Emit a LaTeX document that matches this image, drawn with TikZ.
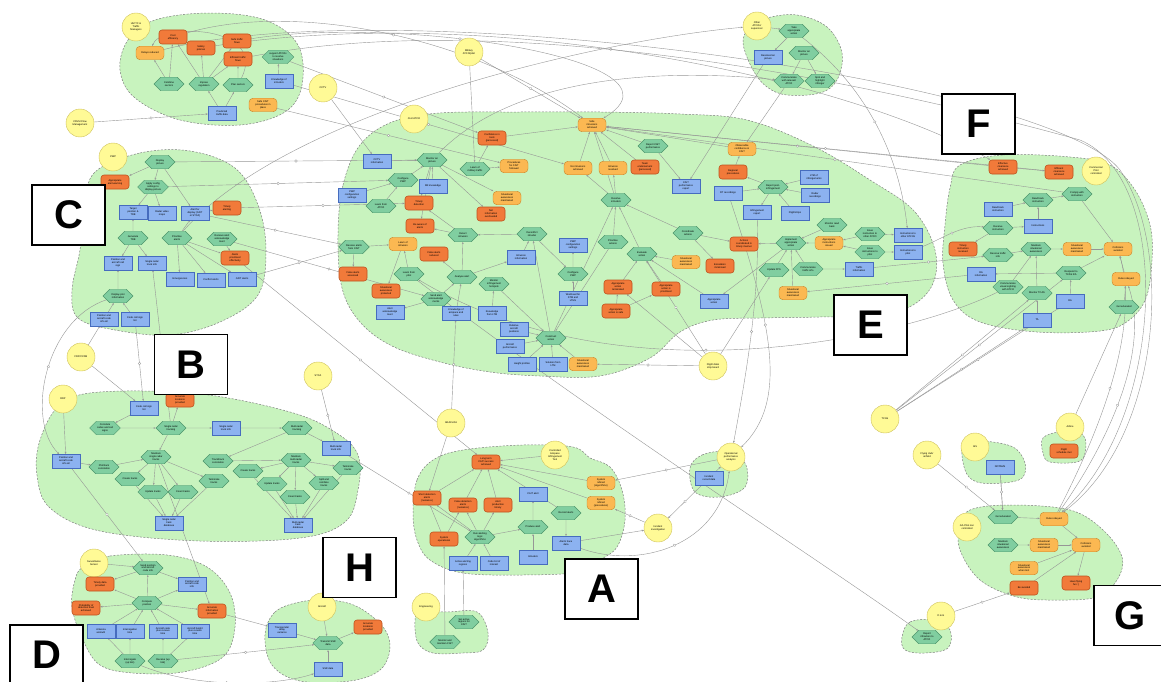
\documentclass[tikz,border=0pt]{standalone}
\usepackage{fontspec}
\setmainfont{Liberation Sans}
\usetikzlibrary{shapes.symbols,arrows.meta,decorations.markings}

\definecolor{blobgreen}{RGB}{200,243,190}
\definecolor{taskgreen}{RGB}{128,206,160}
\definecolor{taskedge}{RGB}{78,150,108}
\definecolor{resblue}{RGB}{140,178,240}
\definecolor{resedge}{RGB}{70,108,190}
\definecolor{goalorange}{RGB}{251,184,82}
\definecolor{goaledge}{RGB}{200,132,40}
\definecolor{badorange}{RGB}{241,122,58}
\definecolor{badedge}{RGB}{190,82,30}
\definecolor{actoryellow}{RGB}{255,250,150}
\definecolor{actoredge}{RGB}{205,192,92}
\definecolor{linegray}{RGB}{150,150,150}

\newcommand{\tfont}{\fontsize{2.5}{2.9}\selectfont}

\pgfdeclarelayer{blobs}
\pgfdeclarelayer{links}
\pgfsetlayers{blobs,links,main}

\begin{document}
\begin{tikzpicture}[x=1pt,y=-1pt,
  actor/.style={circle,draw=actoredge,fill=actoryellow,minimum size=28pt,inner sep=0pt,align=center,font=\tfont},
  task/.style={signal,signal to=west and east,draw=taskedge,fill=taskgreen,minimum width=30pt,minimum height=13.5pt,inner sep=0.6pt,align=center,font=\tfont},
  res/.style={rectangle,draw=resedge,fill=resblue,minimum width=28pt,minimum height=13.5pt,inner sep=0.8pt,align=center,font=\tfont},
  goal/.style={rectangle,rounded corners=4pt,draw=goaledge,fill=goalorange,minimum width=28pt,minimum height=13.5pt,inner sep=0.8pt,align=center,font=\tfont},
  bad/.style={rectangle,rounded corners=3pt,draw=badedge,line width=0.6pt,fill=badorange,minimum width=28pt,minimum height=14pt,inner sep=0.8pt,align=center,font=\tfont},
  blob/.style={draw=gray,dash pattern=on 2pt off 1.5pt,fill=blobgreen,line width=0.5pt},
  letterbox/.style={draw=black,line width=1.8pt,fill=white,minimum width=73pt,minimum height=60pt,inner sep=0pt,font=\fontsize{40}{40}\selectfont\bfseries},
  link/.style={draw=linegray,line width=0.4pt,-{Stealth[length=2.2pt,width=1.8pt]}},
  xlink/.style={link,postaction={decorate},decoration={markings,mark=at position 0.5 with {\draw[linegray,fill=white,line width=0.3pt] (0,0) circle (1.3pt);}}}]

\useasboundingbox (0,0) rectangle (1161,682);

% areas of the system
\begin{pgfonlayer}{blobs}
\draw[blob] plot[smooth cycle,tension=0.6] coordinates {(120,70) (128,40) (155,20) (210,13) (265,20) (298,45) (302,85) (285,112) (240,125) (180,120) (135,98)};
\draw[blob] plot[smooth cycle,tension=0.6] coordinates {(95,172) (140,153) (190,151) (235,168) (258,205) (266,250) (258,295) (220,322) (170,335) (115,330) (78,318) (72,290) (80,250) (85,205)};
\draw[blob] plot[smooth cycle,tension=0.6] coordinates {(40,440) (60,405) (100,392) (200,394) (290,412) (335,432) (358,455) (358,490) (345,522) (300,538) (200,541) (100,531) (50,508) (37,475)};
\draw[blob] plot[smooth cycle,tension=0.6] coordinates {(338,235) (343,185) (360,145) (392,122) (440,113) (520,112) (600,112) (680,114) (747,120) (813,146) (870,180) (915,212) (936,255) (928,292) (890,314) (820,317) (760,318) (713,320) (680,332) (650,358) (600,376) (540,376) (490,372) (440,362) (392,346) (360,322) (342,288)};
\draw[blob] plot[smooth cycle,tension=0.6] coordinates {(960,165) (1003,155) (1070,157) (1110,165) (1135,190) (1150,225) (1152,260) (1146,298) (1128,321) (1100,331) (1037,332) (980,322) (953,300) (943,263) (945,225) (950,188)};
\draw[blob] plot[smooth cycle,tension=0.6] coordinates {(767,18) (797,15) (827,27) (842,53) (837,80) (820,93) (787,95) (767,87) (753,70) (743,43) (750,27)};
\draw[blob] plot[smooth cycle,tension=0.6] coordinates {(413,513) (417,480) (433,460) (463,450) (523,445) (573,447) (590,458) (610,467) (622,490) (625,520) (617,547) (600,560) (580,572) (523,575) (463,573) (430,560) (417,540)};
\draw[blob] plot[smooth cycle,tension=0.6] coordinates {(690,468) (702,455) (725,452) (745,463) (745,487) (720,497) (695,492)};
\draw[blob] plot[smooth cycle,tension=0.6] coordinates {(415,622) (420,612) (447,612) (477,612) (488,633) (483,650) (463,653) (433,653) (418,643)};
\draw[blob] plot[smooth cycle,tension=0.6] coordinates {(83,567) (110,556) (167,555) (207,567) (230,593) (235,627) (223,657) (183,672) (133,673) (100,665) (83,640) (72,607) (75,580)};
\draw[blob] plot[smooth cycle,tension=0.6] coordinates {(265,635) (275,612) (300,602) (330,600) (358,607) (383,627) (390,648) (380,670) (350,681) (300,681) (272,665)};
\draw[blob] plot[smooth cycle,tension=0.6] coordinates {(970,510) (1010,505) (1070,510) (1103,530) (1122,557) (1117,580) (1097,597) (1057,600) (1017,597) (980,580) (960,550) (960,527)};
\draw[blob] plot[smooth cycle,tension=0.6] coordinates {(963,443) (983,441) (1013,447) (1025,463) (1022,478) (1003,483) (977,482) (965,470)};
\draw[blob] plot[smooth cycle,tension=0.6] coordinates {(1043,438) (1060,432) (1083,435) (1085,453) (1077,462) (1050,462) (1043,453)};
\draw[blob] plot[smooth cycle,tension=0.6] coordinates {(902,637) (910,622) (935,620) (950,630) (948,648) (925,653) (905,650)};
\end{pgfonlayer}

% actors
\node[actor] (aUM) at (136,27) {UM TC \&\\Traffic\\Managers};
\node[actor] (aCFMU) at (80,123) {CFMU Flow\\Management};
\node[actor] (aCWP) at (113,157) {CWP};
\node[actor] (aCCTV) at (323,88) {CCTV};
\node[actor] (aMil) at (469,52) {Military\\ATCO/pilot};
\node[actor] (aCivil) at (414,119) {Civil ATCO};
\node[actor] (aOther) at (757,26) {Other\\ATCOs/\\supervisor};
\node[actor] (aCommercial) at (1096,171) {Commercial\\Pilot\\controlled};
\node[actor] (aFDP) at (81,357) {FDP/CCDB};
\node[actor] (aRDP) at (63,399) {RDP};
\node[actor] (aSTCA) at (318,376) {STCA};
\node[actor] (aARA) at (451,423) {ARACLOA};
\node[actor] (aCAIT) at (555,455) {Controlled\\Airspace\\Infringement\\Tool};
\node[actor] (aFlight) at (713,366) {Flight data/\\strip board};
\node[actor] (aOps) at (731,457) {Operational\\performance\\analysis};
\node[actor] (aInv) at (658,528) {Incident\\investigation};
\node[actor] (aTCAS) at (885,419) {TCAS};
\node[actor] (aAirline) at (1070,427) {Airline};
\node[actor] (aAIS) at (975,447) {AIS};
\node[actor] (aClub) at (927,455) {Flying club/\\airfield};
\node[actor] (aGA) at (967,527) {GA Pilot non\\controlled};
\node[actor] (aDG) at (941,616) {D \& G};
\node[actor] (aSensor) at (94,563) {Surveillance\\Sensor};
\node[actor] (aAircraft) at (322,607) {Aircraft};
\node[actor] (aEng) at (426,607) {Engineering};

% traffic management
\node[bad] (tmCost) at (173,37) {Cost\\efficiency};
\node[bad] (tmSafeFlow) at (237,41) {Safe traffic\\flows};
\node[bad] (tmSafety) at (201,48) {Safety\\policies};
\node[bad] (tmEffFlow) at (238,59) {Efficient traffic\\flows};
\node[goal] (tmDelays) at (150,53) {Delays reduced};
\node[task] (tmSupport) at (278,57) {support ATCOs\\to resolve\\situations};
\node[task] (tmCombine) at (169,84) {Combine\\sectors};
\node[task] (tmImpose) at (204,84) {Impose\\regulation};
\node[task] (tmPlan) at (238,85) {Plan sectors};
\node[res] (tmKnow) at (279,81) {Knowledge of\\intruders};
\node[res] (tmPredict) at (222,113) {Predicted\\traffic data};
\node[goal] (tmProc) at (263,105) {Safe CAIT\\procedures in\\place};

% C
\node[task] (cDisplay) at (160,162) {Display\\picture};
\node[bad] (cApprop) at (115,182) {Appropriate\\alert warning};
\node[task] (cApply) at (153,187) {Apply config\\settings to\\display picture};
\node[res] (cTarget) at (133,212) {Target\\position \&\\TDB};
\node[res] (cRadar) at (162,213) {Radar video\\maps};
\node[res] (cAlertDisp) at (195,213) {Alert for\\display (CAIT\\or STCA)};
\node[bad] (cTimely) at (227,208) {Timely\\alerting};
\node[task] (cGenerate) at (133,238) {Generate\\TDB};
\node[task] (cPrior) at (177,238) {Prioritise\\alerts};
\node[task] (cRecvAck) at (222,239) {Receive alert\\acknowledge\\ment};
\node[bad] (cAlertsPrior) at (235,258) {Alerts\\prioritised\\effectively};
\node[res] (cPosCall) at (118,263) {Position and\\aircraft call\\sign};
\node[res] (cSingle) at (152,263) {Single radar\\track info};
\node[res] (cEmerg) at (180,279) {Emergencies};
\node[res] (cConflict) at (211,280) {Conflict alerts};
\node[res] (cCait) at (242,279) {CAIT alerts};
\node[task] (cPlot) at (118,296) {Display plot\\information};
\node[res] (cPosCode) at (104,319) {Position and\\aircraft code\\info all};
\node[res] (cCodeList) at (135,319) {Code call sign\\list};

% B
\node[bad] (bAccurate) at (180,400) {Accurate\\locations\\provided};
\node[res] (bCodeList) at (144,408) {Code call sign\\list};
\node[task] (bCorrelate) at (105,428) {Correlate\\codes and call\\signs};
\node[task] (bSingleTrk) at (171,428) {Single radar\\tracking};
\node[res] (bSingleInfo) at (226,428) {Single radar\\track info};
\node[task] (bMultiTrk) at (297,428) {Multi-radar\\tracking};
\node[res] (bMultiInfo) at (336,448) {Multi-radar\\track info};
\node[res] (bPosAll) at (66,461) {Position and\\aircraft code\\info all};
\node[task] (bPlotTrk) at (104,467) {Plot/track\\correlation};
\node[task] (bMaintS) at (156,457) {Maintain\\single radar\\tracks};
\node[task] (bCreateS) at (130,479) {Create tracks};
\node[task] (bUpdateS) at (153,492) {Update tracks};
\node[task] (bCoastS) at (183,492) {Coast tracks};
\node[task] (bTermS) at (214,481) {Terminate\\tracks};
\node[task] (bTrkTrk) at (218,461) {Track/track\\correlation};
\node[res] (bSingleDB) at (169,523) {Single radar\\track\\database};
\node[task] (bCreateM) at (248,471) {Create tracks};
\node[task] (bUpdateM) at (272,484) {Update tracks};
\node[task] (bMaintM) at (296,460) {Maintain\\multi-radar\\tracks};
\node[task] (bCoastM) at (295,497) {Coast tracks};
\node[task] (bSplit) at (324,483) {Split and\\combine\\tracks};
\node[task] (bTermM) at (348,468) {Terminate\\tracks};
\node[res] (bMultiDB) at (298,525) {Multi-radar\\track\\database};

% D
\node[task] (dSend) at (148,568) {Send position\\and aircraft\\code info};
\node[bad] (dTimely) at (100,584) {Timely data\\provided};
\node[res] (dPosInfo) at (192,584) {Position and\\aircraft code\\info};
\node[task] (dCompute) at (147,603) {Compute\\position};
\node[bad] (dProb) at (86,608) {Probability of\\detection level\\achieved};
\node[bad] (dAccurate) at (212,611) {Accurate\\information\\provided};
\node[res] (dAntenna) at (101,631) {Antenna\\azimuth};
\node[res] (dInterTime) at (130,631) {Interrogation\\time};
\node[res] (dCode) at (163,631) {Aircraft code\\plus receive\\time};
\node[res] (dHeight) at (195,631) {Aircraft height\\plus receive\\time};
\node[task] (dInterrog) at (130,661) {Interrogate\\(up link)};
\node[task] (dReceive) at (163,661) {Receive (up\\link)};

% H
\node[res] (hTransp) at (282,630) {Transponder\\delay\\variance};
\node[task] (hTransmit) at (328,643) {Transmit SSR\\data};
\node[bad] (hAccurate) at (368,627) {Accurate\\locations\\provided};
\node[res] (hSSR) at (328,669) {SSR data};

% A
\node[bad] (aaLong) at (486,462) {Long term\\CAIT success\\achieved};
\node[bad] (aaShort) at (427,498) {Short detection\\alerts\\(nuisance)};
\node[bad] (aaFalse) at (463,505) {False detection\\alerts\\(nuisance)};
\node[bad] (aaTimely) at (498,505) {Alert\\production\\timely};
\node[res] (aaCaitAlert) at (533,494) {CAIT alert};
\node[task] (aaRecord) at (566,513) {Record alerts};
\node[task] (aaProduce) at (533,527) {Produce alert};
\node[bad] (aaSystem) at (444,539) {System\\operational};
\node[task] (aaRun) at (480,537) {Run alerting\\logic\\algorithms};
\node[res] (aaActive) at (463,563) {Active alerting\\regions};
\node[res] (aaCodeList) at (494,563) {Code list of\\interest};
\node[res] (aaIntruders) at (533,557) {Intruders};
\node[res] (aaTrace) at (566,543) {Alerts trace\\data};
\node[goal] (aaRefAlg) at (601,483) {System\\refined\\(algorithms)};
\node[goal] (aaRefProc) at (601,503) {System\\refined\\(procedures)};
\node[res] (opIncident) at (709,478) {Incident\\record data};
\node[task] (enSet) at (464,622) {Set active\\regions for\\CAIT};
\node[task] (enMonitor) at (445,642) {Monitor and\\maintain CAIT};

% G
\node[res] (gNotams) at (1000,467) {NOTAMS};
\node[bad] (gSchedule) at (1064,451) {Flight\\schedule met};
\node[task] (gGet) at (1003,517) {Get educated};
\node[goal] (gRules) at (1054,519) {Rules obeyed};
\node[task] (gMaint) at (1003,545) {Maintain\\situational\\awareness};
\node[goal] (gSA) at (1044,545) {Situational\\awareness\\maintained};
\node[goal] (gColl) at (1086,545) {Collisions\\avoided};
\node[goal] (gSALost) at (1024,568) {Situational\\awareness\\when lost};
\node[bad] (gAvoid) at (1024,588) {Be avoided};
\node[bad] (gFun) at (1076,583) {Have flying\\fun :)};
\node[task] (gReport) at (927,637) {Report\\infraction to\\ATCO};

% F
\node[bad] (fEffective) at (1003,167) {Effective\\clearance\\achieved};
\node[bad] (fEfficient) at (1059,172) {Efficient\\clearance\\achieved};
\node[task] (fComply) at (1077,194) {Comply with\\instruction};
\node[task] (fReadTask) at (1038,200) {Read back\\instruction};
\node[res] (fReadRes) at (998,209) {Read back\\instruction};
\node[task] (fReceive) at (998,228) {Receive\\instruction};
\node[res] (fInstr) at (1038,226) {Instructions};
\node[bad] (fTimely) at (963,249) {Timely\\instruction\\received};
\node[task] (fRecvTraffic) at (998,255) {Receive traffic\\info};
\node[task] (fMaint) at (1036,249) {Maintain\\situational\\awareness};
\node[goal] (fSA) at (1077,249) {Situational\\awareness\\maintained};
\node[goal] (fColl) at (1118,249) {Collisions\\avoided};
\node[res] (fRAinfo) at (981,274) {RA\\information};
\node[task] (fRespond) at (1071,273) {Respond to\\TCAS RA};
\node[goal] (fRules) at (1126,279) {Rules obeyed};
\node[task] (fVisual) at (1008,287) {Communicate\\visual sighting\\with ATCO};
\node[task] (fMonitor) at (1037,293) {Monitor TCAS};
\node[res] (fRA) at (1070,301) {RA};
\node[task] (fGet) at (1124,307) {Get educated};
\node[res] (fTA) at (1037,320) {TA};

% other ATCOs
\node[task] (tAction) at (794,31) {Take\\appropriate\\action};
\node[res] (tResolved) at (768,57) {Resolved air\\picture};
\node[task] (tMonitor) at (804,53) {Monitor air\\picture};
\node[task] (tComm) at (789,81) {Communicate\\with relevant\\ATCO};
\node[task] (tSpot) at (820,81) {Spot and\\highlight\\infringer};

% E
\node[bad] (eConf) at (492,138) {Confidence in\\tools\\(perceived)};
\node[res] (eCCTV) at (377,161) {CCTV\\information};
\node[task] (eMonitor) at (432,160) {Monitor air\\picture};
\node[task] (eLearnMil) at (475,169) {Learn of\\military traffic};
\node[goal] (eProcFollowed) at (514,166) {Procedures\\for CAIT\\followed};
\node[goal] (eNoIntr) at (578,168) {No intrusions\\achieved};
\node[task] (eConfig) at (403,180) {Configure\\CWP};
\node[res] (eMilKnow) at (433,186) {Mil knowledge};
\node[res] (eCWPset) at (352,195) {CWP\\configuration\\settings};
\node[goal] (eSA1) at (507,198) {Situational\\awareness\\maintained};
\node[task] (eLearnATCO) at (381,206) {Learn from\\ATCO};
\node[bad] (eTimelyDet) at (419,203) {Timely\\detection};
\node[bad] (eNotOver) at (491,214) {Not\\information\\overloaded};
\node[bad] (eAware) at (420,226) {Be aware of\\alerts};
\node[goal] (eSafeIntr) at (592,125) {Safe\\intrusions\\achieved};
\node[task] (eReportCait) at (653,146) {Report CAIT\\performance};
\node[goal] (eIntrRes) at (613,168) {Intrusion\\resolved};
\node[bad] (eTeam) at (645,167) {Team\\endorsement\\(perceived)};
\node[goal] (eObserv) at (742,149) {Observable\\confidence in\\CAIT};
\node[bad] (eRegional) at (733,172) {Regional\\procedures};
\node[res] (eCaitPerf) at (686,186) {CAIT\\performance\\report};
\node[task] (eReportPost) at (773,187) {Report post-\\infringement};
\node[res] (eLTM) at (814,177) {LTM of\\infringements};
\node[res] (eRT) at (728,193) {RT recordings};
\node[res] (eRadarRec) at (815,195) {Radar\\recordings};
\node[task] (eResolve) at (616,200) {Resolve\\intruders};
\node[res] (eInfrRep) at (757,212) {Infringement\\report};
\node[res] (eFlightstrips) at (795,213) {Flightstrips};
\node[task] (eMonRead) at (832,225) {Monitor read\\back};
\node[task] (eImplement) at (791,243) {Implement\\appropriate\\action};
\node[goal] (eApprInstr) at (829,243) {Appropriate\\instructions\\issued};
\node[task] (eIssueATCO) at (870,234) {Issue\\instruction to\\other ATCO};
\node[task] (eIssuePilot) at (870,252) {Issue\\instructions to\\pilot};
\node[res] (eInstrATCO) at (908,235) {Instructions to\\other ATCOs};
\node[res] (eInstrPilot) at (908,252) {Instructions to\\pilot};
\node[task] (eUpdateFPS) at (774,270) {Update FPS};
\node[task] (eCommTraffic) at (808,269) {Communicate\\traffic info};
\node[res] (eTrafficInfo) at (859,269) {Traffic\\information};
\node[goal] (eSA2) at (793,293) {Situational\\awareness\\maintained};
\node[task] (eCoord) at (688,233) {Coordinate\\actions};
\node[bad] (eCoordTimely) at (744,244) {Actions\\coordinated in\\timely manner};
\node[task] (ePrioritise) at (613,242) {Prioritise\\actions};
\node[task] (eEvaluate) at (642,254) {Evaluate\\action};
\node[goal] (eSA3) at (686,262) {Situational\\awareness\\maintained};
\node[bad] (eEscal) at (720,266) {Escalation\\minimised};
\node[bad] (eTerminated) at (618,287) {Appropriate\\action\\terminated};
\node[bad] (ePrioritised) at (666,289) {Appropriate\\action is\\prioritised};
\node[bad] (eSafe) at (616,311) {Appropriate\\action is safe};
\node[res] (eApprAction) at (714,301) {Appropriate\\action};
\node[task] (eDetect) at (463,235) {Detect\\intrusion};
\node[task] (eDeconf) at (532,234) {Deconflict\\intruder};
\node[res] (eCWPset2) at (573,245) {CWP\\configuration\\settings};
\node[task] (eRecvAlerts) at (354,247) {Receive alerts\\from CAIT};
\node[goal] (eLearnIntr) at (403,244) {Learn of\\intrusion};
\node[bad] (eFalseRed) at (434,254) {False alerts\\reduced};
\node[res] (eIntrInfo) at (521,257) {Intrusion\\information};
\node[bad] (eFalseAss) at (353,274) {False alerts\\assessed};
\node[task] (eLearnPilot) at (409,274) {Learn from\\pilot};
\node[task] (eAnalyse) at (462,277) {Analyse alert};
\node[task] (eHotspots) at (494,284) {Monitor\\infringement\\hotspots};
\node[task] (eConfig2) at (573,274) {Configure\\CWP};
\node[bad] (eSAprot) at (386,291) {Situational\\awareness\\protected};
\node[task] (eSendAck) at (436,299) {Send alert\\acknowledge\\ments};
\node[res] (eWorkload) at (573,298) {Workload for\\STM and\\LTMs};
\node[res] (eAckRes) at (390,312) {Alert\\acknowledge\\ment};
\node[res] (eKnowAir) at (456,313) {Knowledge of\\airspace and\\rules};
\node[res] (eKnowLTM) at (492,313) {Knowledge\\from LTM};
\node[res] (eRelPos) at (514,329) {Relative\\aircraft\\positions};
\node[res] (eAcPerf) at (510,346) {Aircraft\\performance};
\node[task] (eConstruct) at (551,338) {Construct\\action};
\node[res] (eHeight) at (522,364) {Height profiles};
\node[res] (eSolution) at (553,364) {Solution from\\LTM};
\node[goal] (eSA4) at (583,364) {Situational\\awareness\\maintained};

% panel letters
\node[letterbox] (boxC) at (68.5,215) {C};
\node[letterbox] (boxB) at (191,364.5) {B};
\node[letterbox] (boxF) at (978.5,124) {F};
\node[letterbox] (boxE) at (870.5,325) {E};
\node[letterbox] (boxH) at (359.5,567.5) {H};
\node[letterbox] (boxA) at (601.5,589) {A};
\node[letterbox] (boxG) at (1130.5,615.5) {G};
\node[letterbox] (boxD) at (46.5,655) {D};

\begin{pgfonlayer}{links}
% inside the areas
\draw[link] (tmCombine) -- (tmDelays);
\draw[link] (tmCombine) -- (tmCost);
\draw[link] (tmImpose) -- (tmCost);
\draw[link] (tmImpose) -- (tmSafety);
\draw[link] (tmImpose) -- (tmSafeFlow);
\draw[link] (tmImpose) -- (tmEffFlow);
\draw[link] (tmPlan) -- (tmEffFlow);
\draw[link] (tmPredict) -- (tmImpose);
\draw[link] (tmPredict) -- (tmPlan);
\draw[link] (tmKnow) -- (tmSupport);
\draw[link] (tmPlan) .. controls (268,25) and (160,22) .. (tmDelays);

\draw[link] (cDisplay) -- (cApprop);
\draw[link] (cDisplay) -- (cApply);
\draw[link] (cApply) -- (cTarget);
\draw[link] (cApply) -- (cRadar);
\draw[link] (cDisplay) -- (cAlertDisp);
\draw[link] (cAlertDisp) -- (cTimely);
\draw[link] (cGenerate) -- (cTarget);
\draw[link] (cPrior) -- (cAlertDisp);
\draw[link] (cPrior) -- (cEmerg);
\draw[link] (cPrior) -- (cConflict);
\draw[link] (cPrior) -- (cCait);
\draw[link] (cRecvAck) -- (cAlertsPrior);
\draw[link] (cPrior) -- (cAlertsPrior);
\draw[link] (cGenerate) -- (cPosCall);
\draw[link] (cGenerate) -- (cSingle);
\draw[link] (cPlot) -- (cPosCall);
\draw[link] (cPosCode) -- (cPlot);
\draw[link] (cCodeList) -- (cPlot);

\draw[link] (bSingleTrk) -- (bAccurate);
\draw[link] (bCodeList) -- (bCorrelate);
\draw[link] (bCorrelate) -- (bSingleTrk);
\draw[link] (bSingleTrk) -- (bSingleInfo);
\draw[link] (bSingleInfo) -- (bMultiTrk);
\draw[link] (bMultiTrk) -- (bMultiInfo);
\draw[link] (bPosAll) -- (bPlotTrk);
\draw[link] (bPlotTrk) -- (bMaintS);
\draw[link] (bSingleTrk) -- (bMaintS);
\draw[link] (bMaintS) -- (bCreateS);
\draw[link] (bMaintS) -- (bUpdateS);
\draw[link] (bMaintS) -- (bCoastS);
\draw[link] (bMaintS) -- (bTermS);
\draw[link] (bCreateS) -- (bSingleDB);
\draw[link] (bUpdateS) -- (bSingleDB);
\draw[link] (bCoastS) -- (bSingleDB);
\draw[link] (bTermS) -- (bSingleDB);
\draw[link] (bMultiTrk) -- (bTrkTrk);
\draw[link] (bTrkTrk) -- (bMaintM);
\draw[link] (bMaintM) -- (bCreateM);
\draw[link] (bMaintM) -- (bUpdateM);
\draw[link] (bMaintM) -- (bCoastM);
\draw[link] (bMaintM) -- (bSplit);
\draw[link] (bMaintM) -- (bTermM);
\draw[link] (bCreateM) -- (bMultiDB);
\draw[link] (bUpdateM) -- (bMultiDB);
\draw[link] (bCoastM) -- (bMultiDB);
\draw[link] (bSplit) -- (bMultiDB);
\draw[link] (bTermM) -- (bMultiDB);

\draw[link] (dSend) -- (dTimely);
\draw[link] (dSend) -- (dPosInfo);
\draw[link] (dCompute) -- (dSend);
\draw[link] (dCompute) -- (dTimely);
\draw[link] (dCompute) -- (dProb);
\draw[link] (dCompute) -- (dAccurate);
\draw[link] (dCompute) -- (dPosInfo);
\draw[link] (dAntenna) -- (dCompute);
\draw[link] (dInterTime) -- (dCompute);
\draw[link] (dCode) -- (dCompute);
\draw[link] (dHeight) -- (dCompute);
\draw[link] (dInterrog) -- (dAntenna);
\draw[link] (dInterrog) -- (dInterTime);
\draw[link] (dReceive) -- (dCode);
\draw[link] (dReceive) -- (dHeight);

\draw[link] (hTransp) -- (hTransmit);
\draw[link] (hTransmit) -- (hAccurate);
\draw[link] (hSSR) -- (hTransmit);

\draw[link] (aaShort) -- (aaLong);
\draw[link] (aaFalse) -- (aaLong);
\draw[link] (aaTimely) -- (aaLong);
\draw[link] (aaRecord) -- (aaLong);
\draw[link] (aaSystem) -- (aaShort);
\draw[link] (aaSystem) -- (aaFalse);
\draw[link] (aaRun) -- (aaShort);
\draw[link] (aaRun) -- (aaFalse);
\draw[link] (aaRun) -- (aaTimely);
\draw[link] (aaActive) -- (aaRun);
\draw[link] (aaCodeList) -- (aaRun);
\draw[link] (aaRun) -- (aaProduce);
\draw[link] (aaIntruders) -- (aaProduce);
\draw[link] (aaProduce) -- (aaCaitAlert);
\draw[link] (aaRecord) -- (aaTrace);
\draw[link] (aaRefAlg) -- (aaLong);
\draw[link] (aaRefProc) -- (aaLong);
\draw[link] (enSet) -- (aaActive);
\draw[link] (enMonitor) -- (aaSystem);

\draw[link] (gNotams) -- (gGet);
\draw[link] (gGet) -- (gRules);
\draw[link] (gMaint) -- (gSA);
\draw[link] (gSA) -- (gColl);
\draw[link] (gSALost) -- (gColl);
\draw[link] (gAvoid) -- (gColl);
\draw[link] (gRules) -- (gColl);
\draw[link] (gColl) -- (gFun);

\draw[link] (fEffective) -- (fEfficient);
\draw[link] (fReadTask) -- (fComply);
\draw[link] (fReadRes) -- (fReadTask);
\draw[link] (fInstr) -- (fReadTask);
\draw[link] (fReceive) -- (fInstr);
\draw[link] (fReceive) -- (fTimely);
\draw[link] (fRecvTraffic) -- (fMaint);
\draw[link] (fMaint) -- (fSA);
\draw[link] (fSA) -- (fColl);
\draw[link] (fRespond) -- (fColl);
\draw[link] (fRules) -- (fColl);
\draw[link] (fGet) -- (fRules);
\draw[link] (fMonitor) -- (fMaint);
\draw[link] (fTA) -- (fMonitor);
\draw[link] (fRA) -- (fRespond);
\draw[link] (fRespond) -- (fRAinfo);
\draw[link] (fComply) -- (fColl);
\draw[link] (fVisual) -- (fMaint);

\draw[link] (tAction) -- (tResolved);
\draw[link] (tMonitor) -- (tSpot);
\draw[link] (tMonitor) -- (tComm);

\draw[link] (eCCTV) -- (eMonitor);
\draw[link] (eMilKnow) -- (eMonitor);
\draw[link] (eConfig) -- (eMonitor);
\draw[link] (eCWPset) -- (eConfig);
\draw[link] (eLearnATCO) -- (eConfig);
\draw[link] (eMonitor) -- (eTimelyDet);
\draw[link] (eMonitor) -- (eSA1);
\draw[link] (eMonitor) -- (eNotOver);
\draw[link] (eMonitor) -- (eAware);
\draw[link] (eLearnMil) -- (eProcFollowed);
\draw[link] (eLearnMil) -- (eConf);
\draw[link] (eDetect) -- (eAware);
\draw[link] (eDetect) -- (eTimelyDet);
\draw[link] (eRecvAlerts) -- (eLearnIntr);
\draw[link] (eLearnIntr) -- (eSAprot);
\draw[link] (eRecvAlerts) -- (eFalseAss);
\draw[link] (eLearnPilot) -- (eLearnIntr);
\draw[link] (eAnalyse) -- (eFalseRed);
\draw[link] (eAnalyse) -- (eDetect);
\draw[link] (eSendAck) -- (eAckRes);
\draw[link] (eSendAck) -- (eAnalyse);
\draw[link] (eKnowAir) -- (eAnalyse);
\draw[link] (eKnowLTM) -- (eHotspots);
\draw[link] (eAnalyse) -- (eIntrInfo);
\draw[link] (eIntrInfo) -- (eDeconf);
\draw[link] (eDeconf) -- (eDetect);
\draw[link] (eDeconf) -- (eConfig2);
\draw[link] (eConfig2) -- (eCWPset2);
\draw[link] (eWorkload) -- (eConfig2);
\draw[link] (eConstruct) -- (eDeconf);
\draw[link] (eRelPos) -- (eConstruct);
\draw[link] (eAcPerf) -- (eConstruct);
\draw[link] (eHeight) -- (eConstruct);
\draw[link] (eSolution) -- (eConstruct);
\draw[link] (eSA4) -- (eConstruct);
\draw[link] (eConstruct) -- (eResolve);
\draw[link] (eResolve) -- (eSafeIntr);
\draw[link] (eResolve) -- (eIntrRes);
\draw[link] (ePrioritise) -- (eResolve);
\draw[link] (eEvaluate) -- (eResolve);
\draw[link] (eTerminated) -- (eEvaluate);
\draw[link] (ePrioritised) -- (eEvaluate);
\draw[link] (eSafe) -- (eTerminated);
\draw[link] (eSafe) -- (ePrioritised);
\draw[link] (eApprAction) -- (eEvaluate);
\draw[link] (eSA3) -- (eEvaluate);
\draw[link] (eCoord) -- (eEscal);
\draw[link] (eCoord) -- (eCoordTimely);
\draw[link] (eCoord) -- (eResolve);
\draw[link] (eImplement) -- (eApprAction);
\draw[link] (eImplement) -- (eCoordTimely);
\draw[link] (eMonRead) -- (eImplement);
\draw[link] (eApprInstr) -- (eImplement);
\draw[link] (eIssueATCO) -- (eApprInstr);
\draw[link] (eIssuePilot) -- (eApprInstr);
\draw[link] (eIssueATCO) -- (eInstrATCO);
\draw[link] (eIssuePilot) -- (eInstrPilot);
\draw[link] (eCommTraffic) -- (eImplement);
\draw[link] (eCommTraffic) -- (eTrafficInfo);
\draw[link] (eUpdateFPS) -- (eImplement);
\draw[link] (eSA2) -- (eImplement);
\draw[link] (eReportPost) -- (eInfrRep);
\draw[link] (eRT) -- (eReportPost);
\draw[link] (eLTM) -- (eReportPost);
\draw[link] (eRadarRec) -- (eReportPost);
\draw[link] (eFlightstrips) -- (eReportPost);
\draw[link] (eReportPost) -- (eRegional);
\draw[link] (eRegional) -- (eObserv);
\draw[link] (eReportCait) -- (eCaitPerf);
\draw[link] (eReportCait) -- (eSafeIntr);
\draw[link] (eIntrRes) -- (eSafeIntr);
\draw[link] (eTeam) -- (eSafeIntr);
\draw[link] (eNoIntr) -- (eSafeIntr);
\draw[link] (eConf) -- (eSafeIntr);
\draw[link] (eObserv) -- (eSafeIntr);
\draw[link] (eResolve) -- (eNoIntr);
\draw[link] (ePrioritise) -- (eConstruct);
\draw[link] (eHotspots) -- (eConstruct);

% between the areas
\draw[xlink] (aCFMU) -- (tmPredict);
\draw[xlink] (tmProc) -- (eProcFollowed);
\draw[xlink] (tmSupport) -- (eConf);
\draw[xlink] (tmKnow) -- (eNoIntr);
\draw[xlink] (tmCost) .. controls (300,0) and (480,40) .. (eSafeIntr);
\draw[xlink] (tmSafeFlow) .. controls (400,15) and (700,60) .. (eSafeIntr);
\draw[xlink] (tmSafety) .. controls (500,2) and (850,80) .. (fEffective);
\draw[link] (tmEffFlow) .. controls (520,5) and (900,90) .. (1080,140) .. controls (1175,180) and (1165,420) .. (gRules);
\draw[link] (tmDelays) .. controls (400,-10) and (1050,80) .. (1120,170) .. controls (1175,250) and (1160,440) .. (gRules);
\draw[xlink] (cDisplay) -- (eMonitor);
\draw[xlink] (cApply) -- (eConfig);
\draw[xlink] (cAlertDisp) -- (eRecvAlerts);
\draw[xlink] (cCait) -- (eRecvAlerts);
\draw[xlink] (cTimely) -- (eTimelyDet);
\draw[xlink] (cAlertsPrior) -- (aaLong);
\draw[xlink] (cRecvAck) -- (eSendAck);
\draw[link] (cPrior) .. controls (290,110) and (600,40) .. (aOther);
\draw[xlink] (cCodeList) -- (bCodeList);
\draw[xlink] (cPlot) .. controls (45,320) and (25,420) .. (bPosAll);
\draw[link] (aFDP) -- (cPosCode);
\draw[link] (aFDP) -- (bCodeList);
\draw[link] (aRDP) -- (bPosAll);
\draw[link] (bSingleTrk) -- (cSingle);
\draw[xlink] (bPosAll) -- (dSend);
\draw[xlink] (bMultiInfo) -- (aaRun);
\draw[xlink] (aSTCA) -- (bMultiInfo);
\draw[xlink] (aARA) -- (eKnowAir);
\draw[link] (aARA) -- (aaShort);
\draw[link] (bMaintS) -- (dAccurate);
\draw[link] (dAccurate) -- (hTransp);
\draw[xlink] (dInterrog) .. controls (200,690) and (280,685) .. (hSSR);
\draw[xlink] (dReceive) .. controls (220,655) and (270,650) .. (hTransmit);
\draw[link] (aAircraft) -- (hTransmit);
\draw[link] (aSensor) -- (dSend);
\draw[xlink] (aOps) -- (aaRefAlg);
\draw[link] (opIncident) -- (aOps);
\draw[xlink] (aInv) -- (aaRefProc);
\draw[xlink] (opIncident) -- (aInv);
\draw[link] (aaTrace) -- (aInv);
\draw[xlink] (aaTrace) .. controls (640,570) and (720,545) .. (aOps);
\draw[link] (aCAIT) -- (aaLong);
\draw[link] (aFlight) -- (eUpdateFPS);
\draw[xlink] (aFlight) -- (eSA4);
\draw[xlink] (aFlight) -- (eEvaluate);
\draw[link] (aFlight) -- (eTerminated);
\draw[xlink] (eInfrRep) .. controls (760,300) and (745,380) .. (aOps);
\draw[xlink] (eRT) .. controls (770,320) and (790,400) .. (aOps);
\draw[xlink] (aTCAS) -- (fTA);
\draw[xlink] (aTCAS) -- (fRA);
\draw[xlink] (aTCAS) -- (fRespond);
\draw[xlink] (aTCAS) -- (fMonitor);
\draw[link] (aAirline) -- (fGet);
\draw[xlink] (gNotams) -- (gGet);
\draw[xlink] (aClub) -- (gGet);
\draw[xlink] (aDG) -- (gAvoid);
\draw[link] (eLearnPilot) .. controls (600,420) and (820,560) .. (gReport);
\draw[xlink] (gRules) .. controls (1110,440) and (1150,350) .. (fRules);
\draw[xlink] (gRules) .. controls (1100,430) and (1140,330) .. (fColl);
\draw[link] (aOther) -- (tAction);
\draw[link] (tResolved) -- (eCaitPerf);
\draw[link] (tComm) -- (eObserv);
\draw[xlink] (tAction) .. controls (870,90) and (900,160) .. (eInstrATCO);
\draw[link] (eMonitor) .. controls (520,70) and (680,70) .. (tComm);
\draw[link] (aMil) -- (eLearnMil);
\draw[xlink] (aMil) -- (eSafeIntr);
\draw[link] (aCCTV) -- (eCCTV);
\draw[xlink] (fEffective) -- (eSafeIntr);
\draw[xlink] (fEfficient) -- (eSafeIntr);
\draw[xlink] (fComply) -- (eSafeIntr);
\draw[xlink] (eInstrPilot) .. controls (940,240) and (960,225) .. (fReceive);
\draw[xlink] (eTrafficInfo) -- (fRecvTraffic);
\draw[xlink] (fRAinfo) -- (eSA2);
\draw[xlink] (fVisual) .. controls (900,340) and (620,400) .. (eLearnPilot);
\end{pgfonlayer}
\end{tikzpicture}
\end{document}
